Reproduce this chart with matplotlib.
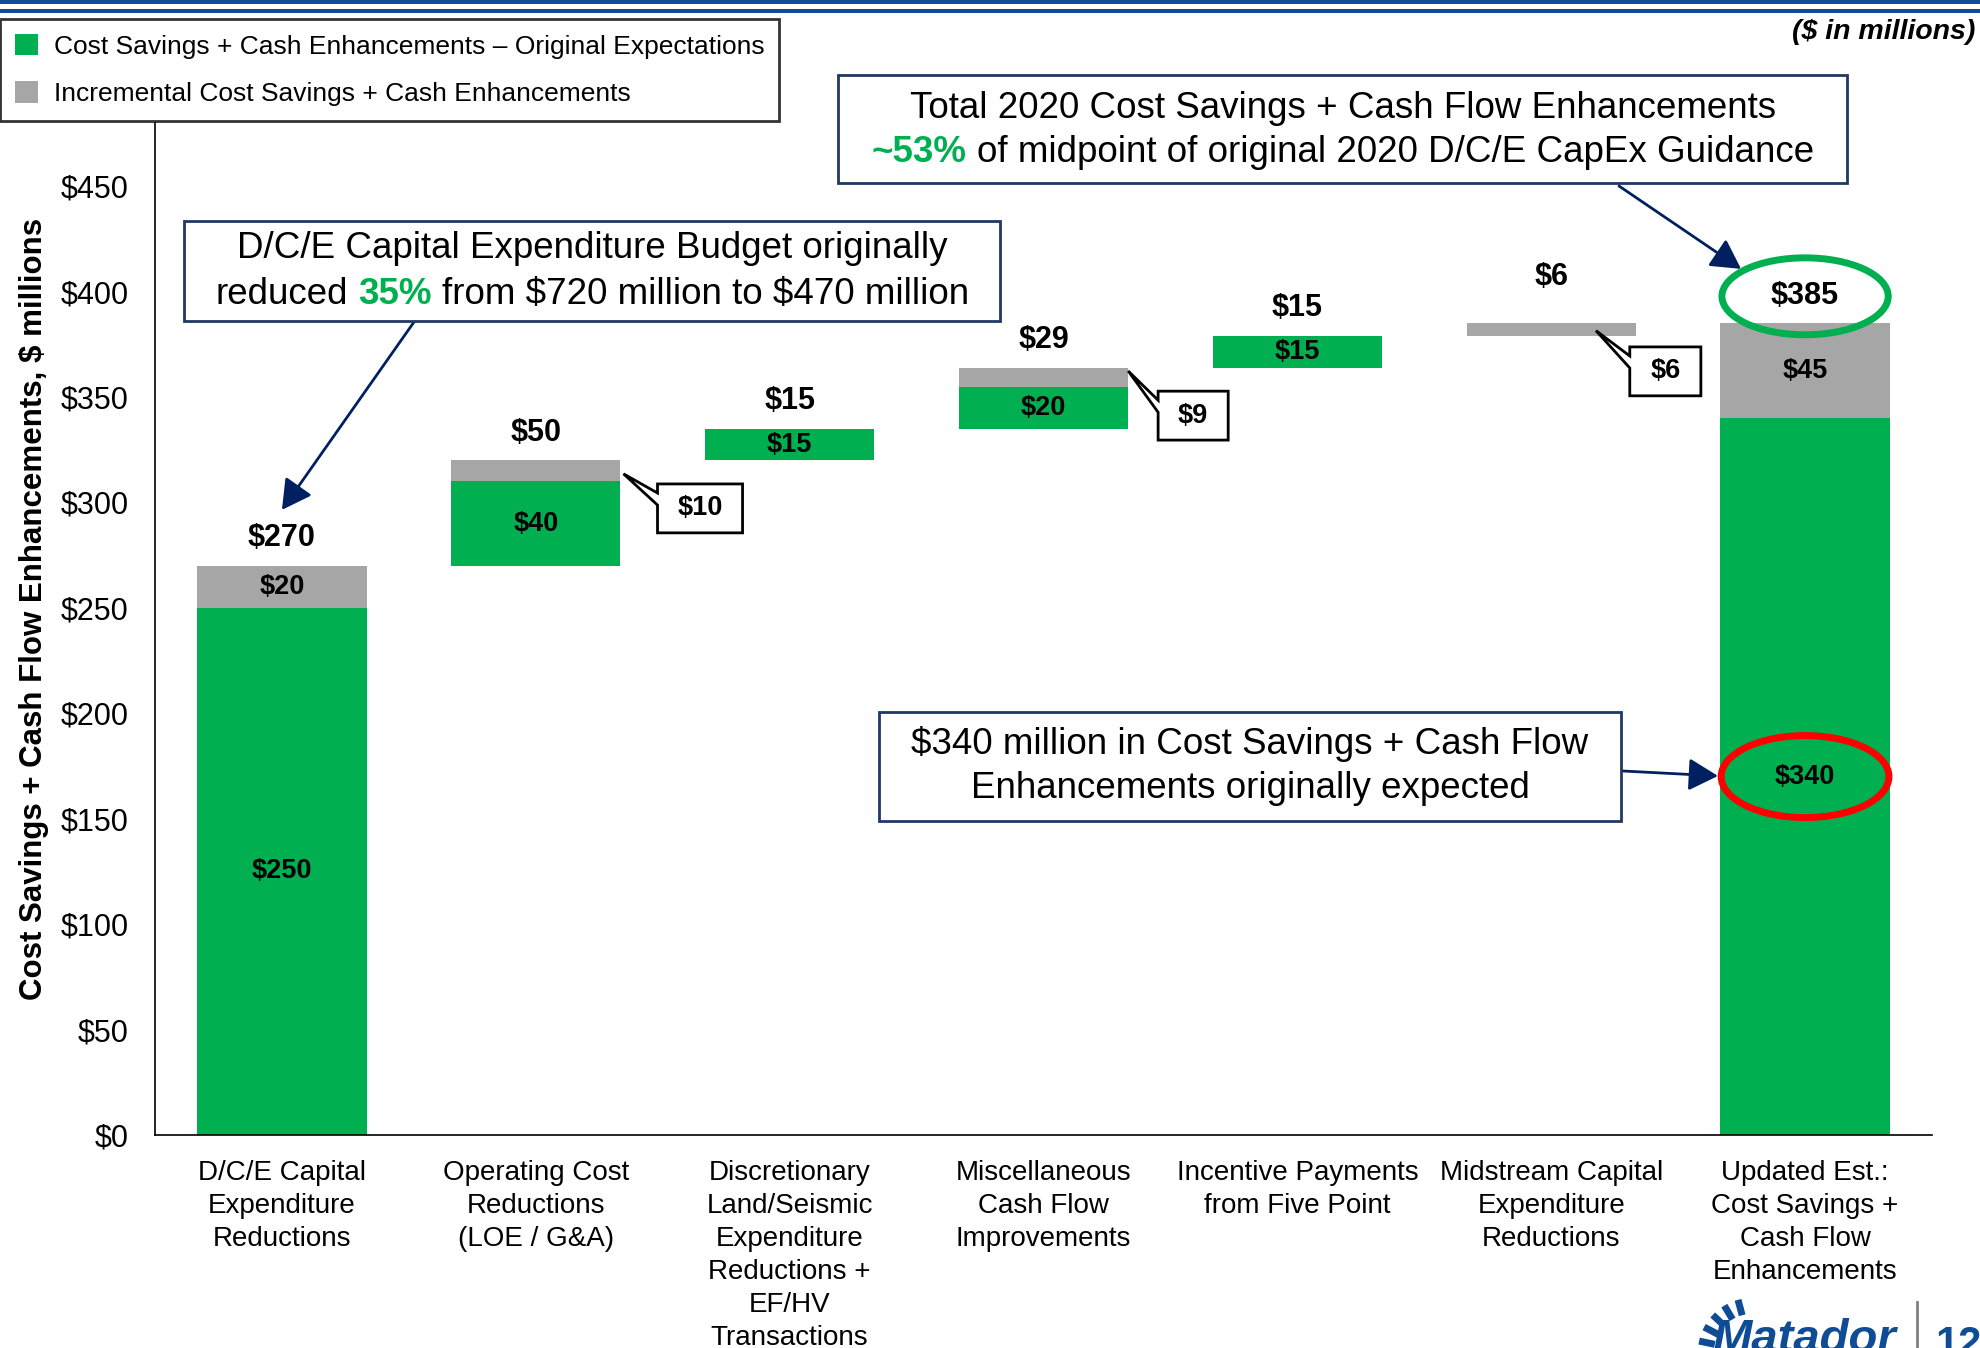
import numpy as np
import matplotlib
matplotlib.use("Agg")
import matplotlib.pyplot as plt
from matplotlib.patches import Patch, Rectangle, Ellipse, Polygon
from matplotlib.lines import Line2D

plt.rcParams['font.family'] = ['Liberation Sans', 'DejaVu Sans']
plt.rcParams['text.parse_math'] = False

# --- data ($ in millions) ---
categories = [
    "D/C/E Capital\nExpenditure\nReductions",
    "Operating Cost\nReductions\n(LOE / G&A)",
    "Discretionary\nLand/Seismic\nExpenditure\nReductions +\nEF/HV\nTransactions",
    "Miscellaneous\nCash Flow\nImprovements",
    "Incentive Payments\nfrom Five Point",
    "Midstream Capital\nExpenditure\nReductions",
    "Updated Est.:\nCost Savings +\nCash Flow\nEnhancements",
]
original_vals = [250, 40, 15, 20, 15, 0, 340]      # green
incremental_vals = [20, 10, 0, 9, 0, 6, 45]        # grey
yticks = [0, 50, 100, 150, 200, 250, 300, 350, 400, 450]

GREEN = '#00B050'
GREY = '#A6A6A6'
NAVY = '#002060'
BOXBLUE = '#1F3864'
TOPBLUE = '#0E4C96'

W, H = 1980, 1348
BAR_W = 0.667


def fx(x):
    return x / W


def fy(y):
    return 1 - y / H


fig = plt.figure(figsize=(W / 100, H / 100), dpi=100)
ax = fig.add_axes([155 / W, fy(1135), (1932 - 155) / W, (1135 - 123) / H])

x = np.arange(len(categories))
green = np.array(original_vals)
grey = np.array(incremental_vals)
steps = green + grey
# waterfall: first bar and final total start at 0, others float
base = np.concatenate([[0], np.cumsum(steps[:-2]), [0]])
totals = steps

ax.bar(x, green, bottom=base, width=BAR_W, color=GREEN, zorder=2)
ax.bar(x, grey, bottom=base + green, width=BAR_W, color=GREY, zorder=2)

ax.set_xlim(-0.5, len(categories) - 0.5)
ax.set_ylim(0, 480)
ax.set_yticks(yticks)
ax.set_yticklabels([f'${v}' for v in yticks], fontsize=22)
ax.set_xticks(x)
ax.set_xticklabels(categories, fontsize=20, linespacing=1.35)
ax.tick_params(axis='y', length=0, pad=19)
ax.tick_params(axis='x', length=0, pad=18)
for s in ['top', 'right']:
    ax.spines[s].set_visible(False)
for s in ['left', 'bottom']:
    ax.spines[s].set_linewidth(1.2)
    ax.spines[s].set_color('black')

# total labels above the bars
top_pad = [20, 20, 20, 20, 20, 33, 20]
for i in x:
    ax.annotate(f'${totals[i]}', (i, base[i] + totals[i]), xytext=(0, top_pad[i]),
                textcoords='offset points', ha='center', va='center',
                fontsize=22, fontweight='bold', zorder=5)

# segment labels inside bars
for i in x:
    if green[i] > 0:
        ax.text(i, base[i] + green[i] / 2, f'${green[i]}', ha='center', va='center',
                fontsize=19.5, fontweight='bold', zorder=5)
for i in [0, len(x) - 1]:
    ax.text(i, base[i] + green[i] + grey[i] / 2, f'${grey[i]}', ha='center', va='center',
            fontsize=19.5, fontweight='bold', zorder=5)

# callouts for small grey pieces: (bar, box dx, box width, tip dx, tip dy)
callouts = [(1, 0.146, 0.335, 0.012, 6.4),
            (3, 0.118, 0.276, 0.0, 1.6),
            (5, -0.024, 0.28, -0.157, 3.5)]
for i, dx, bw, tdx, tdy in callouts:
    right = i + BAR_W / 2
    top = base[i] + totals[i]
    bx0, bx1 = right + dx, right + dx + bw
    by1 = top - 11.2
    by0 = by1 - 23.2
    tip = (right + tdx, top - tdy)
    pts = [(bx0, by1), (bx1, by1), (bx1, by0), (bx0, by0),
           (bx0, by1 - 10), tip, (bx0, by1 - 4.3)]
    ax.add_patch(Polygon(pts, closed=True, facecolor='white', edgecolor='black',
                         lw=2, zorder=6))
    ax.text((bx0 + bx1) / 2, (by0 + by1) / 2, f'${grey[i]}', ha='center', va='center',
            fontsize=19.5, fontweight='bold', zorder=7)

# ellipses on the final bar
last = len(x) - 1
ax.add_patch(Ellipse((last, totals[last] + 12.8), 0.655, 36.5, fill=False,
                     edgecolor=GREEN, lw=5, zorder=6, clip_on=False))
ax.add_patch(Ellipse((last, green[last] / 2), 0.661, 38.9, fill=False,
                     edgecolor='#FF0000', lw=5, zorder=6))

# y label
fig.text(fx(34), fy(609), 'Cost Savings + Cash Flow Enhancements, $ millions',
         rotation=90, ha='center', va='center', fontsize=22.5, fontweight='bold')

# legend
handles = [Patch(facecolor=GREEN, edgecolor='none'), Patch(facecolor=GREY, edgecolor='none')]
leg = fig.legend(handles, ['Cost Savings + Cash Enhancements \u2013 Original Expectations',
                           'Incremental Cost Savings + Cash Enhancements'],
                 loc='upper left', bbox_to_anchor=(0, fy(19)), fontsize=19,
                 frameon=True, fancybox=False, edgecolor='black', borderaxespad=0,
                 handlelength=0.9, handleheight=0.9, handletextpad=0.6,
                 borderpad=0.55, labelspacing=0.85)
leg.get_frame().set_linewidth(2)

# rich text boxes
renderer = fig.canvas.get_renderer()


def rich_line(parts, cx, cy, size):
    probe = fig.text(0, 0, 'a a', fontsize=size)
    probe2 = fig.text(0, 0, 'aa', fontsize=size)
    gap = probe.get_window_extent(renderer).width - probe2.get_window_extent(renderer).width
    probe.remove()
    probe2.remove()
    texts, widths = [], []
    for s, color, weight in parts:
        t = fig.text(0, fy(cy), s, fontsize=size, color=color, fontweight=weight,
                     ha='left', va='center')
        texts.append(t)
        widths.append(t.get_window_extent(renderer).width)
    total = sum(widths) + gap * (len(parts) - 1)
    x0 = cx - total / 2
    for t, w in zip(texts, widths):
        t.set_x(fx(x0))
        x0 += w + gap


def box(x0, y0, x1, y1):
    fig.patches.append(Rectangle((fx(x0), fy(y1)), (x1 - x0) / W, (y1 - y0) / H,
                                 transform=fig.transFigure, facecolor='white',
                                 edgecolor=BOXBLUE, lw=2, zorder=3))


BOX_FS = 26.5
box(184, 221, 1000, 321)
rich_line([('D/C/E Capital Expenditure Budget originally', 'black', 'normal')], 592, 249, BOX_FS)
rich_line([('reduced', 'black', 'normal'), ('35%', GREEN, 'bold'),
           ('from $720 million to $470 million', 'black', 'normal')], 592, 294, BOX_FS)

box(838, 75, 1847, 183)
rich_line([('Total 2020 Cost Savings + Cash Flow Enhancements', 'black', 'normal')], 1343, 109, BOX_FS)
rich_line([('~53%', GREEN, 'bold'),
           ('of midpoint of original 2020 D/C/E CapEx Guidance', 'black', 'normal')], 1343, 153, BOX_FS)

box(879, 712, 1621, 821)
rich_line([('$340 million in Cost Savings + Cash Flow', 'black', 'normal')], 1250, 744, BOX_FS)
rich_line([('Enhancements originally expected', 'black', 'normal')], 1250, 789, BOX_FS)

# arrows from boxes to the bars
arrow_kw = dict(arrowstyle='-|>,head_length=0.4,head_width=0.22', color=NAVY, lw=2,
                mutation_scale=45, shrinkA=0, shrinkB=0)
ax.annotate('', xy=(0, 296.5), xytext=(414, H - 322), textcoords='figure pixels',
            arrowprops=arrow_kw, annotation_clip=False)
ax.annotate('', xy=(5.748, 410.8), xytext=(1619, H - 186), textcoords='figure pixels',
            arrowprops=arrow_kw, annotation_clip=False)
ax.annotate('', xy=(5.657, 170.3), xytext=(1623, H - 771), textcoords='figure pixels',
            arrowprops=arrow_kw, annotation_clip=False)

# header rules and units note
for y0, y1 in [(0, 4), (9, 13)]:
    fig.patches.append(Rectangle((0, fy(y1)), 1, (y1 - y0) / H, transform=fig.transFigure,
                                 facecolor=TOPBLUE, edgecolor='none'))
fig.text(fx(1975), fy(32), '($ in millions)', ha='right', va='center', fontsize=20.5,
         fontweight='bold', style='italic')

# footer logo + page number
fig.text(fx(1712), fy(1318), 'Matador', ha='left', va='top', fontsize=34,
         fontweight='bold', style='italic', color=TOPBLUE)
for ang in np.linspace(105, 200, 7):
    a = np.deg2rad(ang)
    cx, cy, r0, r1 = 1752, 1352, 38, 54
    fig.add_artist(Line2D([fx(cx + r0 * np.cos(a)), fx(cx + r1 * np.cos(a))],
                          [fy(cy - r0 * np.sin(a)), fy(cy - r1 * np.sin(a))],
                          transform=fig.transFigure, color=TOPBLUE, lw=5,
                          solid_capstyle='butt'))
fig.add_artist(Line2D([fx(1917), fx(1917)], [fy(1302), 0], transform=fig.transFigure,
                      color='#808080', lw=2))
fig.text(fx(1935), fy(1325), '12', ha='left', va='top', fontsize=30, fontweight='bold',
         color=TOPBLUE)

fig.savefig('out.png', dpi=100, facecolor='white')
